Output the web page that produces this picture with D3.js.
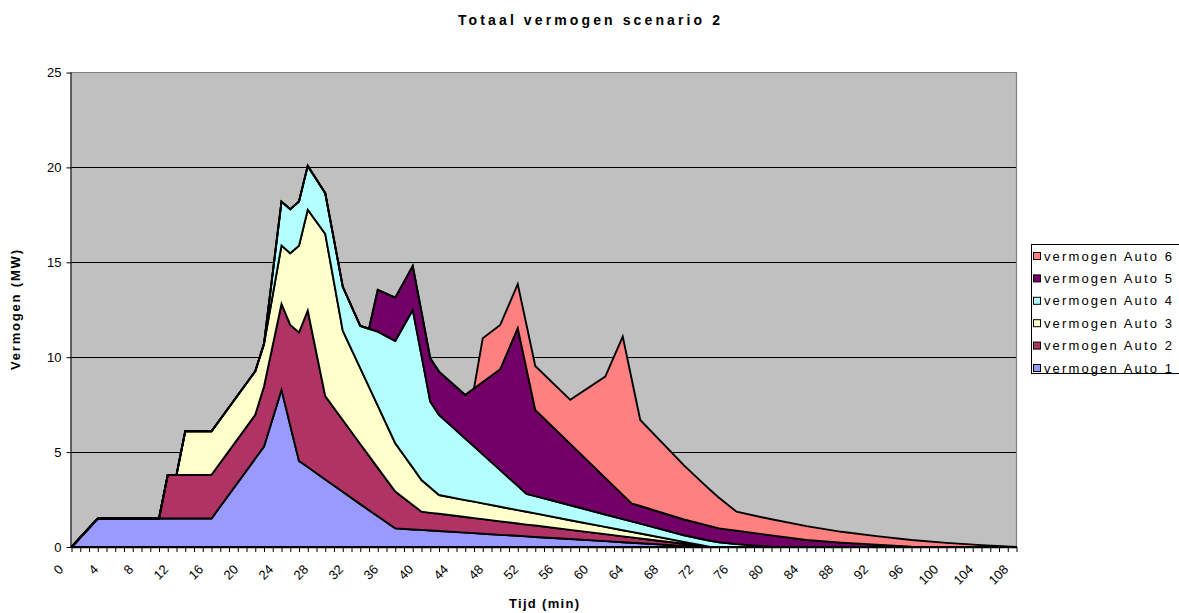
<!DOCTYPE html>
<html>
<head>
<meta charset="utf-8">
<script src="https://cdn.jsdelivr.net/npm/d3@7"></script>
<style>
  html, body { margin: 0; padding: 0; background: #fff; }
  svg { display: block; font-family: Arial, "Liberation Sans", sans-serif; }
</style>
</head>
<body>
<svg id="chart" width="1179" height="613"></svg>
<script>
// Time points (minutes) at which the power of each car is recorded
const times = [0,3,10,11,12,13,16, 21,22,24,25,26,27,29, 31,33,34,35,37,39,40,
  41,42,45,46,47,49,51, 52,53,57,61,63,64,65, 70,72,73,74,76,80,84, 88,92,96,100,104,108];

// Power per car (MW)
const auto1 = [0,1.5,1.5,1.5,1.5,1.5,1.5, 4.66,5.29,8.28,6.4,4.53,4.21,3.56, 2.91,2.26,1.94,1.62,0.98,0.92,0.90,
  0.87,0.84,0.76,0.73,0.70,0.64,0.59, 0.56,0.53,0.42,0.31,0.25,0.22,0.20, 0.06,0,0,0,0,0,0, 0,0,0,0,0,0];
const auto2 = [0,0,0,2.3,2.3,2.3,2.3, 2.3,3.17,4.53,5.3,6.77,8.25,4.39, 3.78,3.17,2.86,2.55,1.94,1.29,0.96,
  0.93,0.91,0.82,0.79,0.77,0.71,0.65, 0.62,0.60,0.48,0.37,0.31,0.29,0.25, 0.11,0.06,0,0,0,0,0, 0,0,0,0,0,0];
const auto3 = [0,0,0,0,0,2.3,2.3, 2.3,2.24,3.07,3.78,4.57,5.31,8.55, 4.71,3.99,3.64,3.28,2.55,1.97,1.67,
  1.33,0.99,0.89,0.87,0.83,0.77,0.70, 0.68,0.64,0.51,0.38,0.32,0.29,0.26, 0.10,0.03,0,0,0,0,0, 0,0,0,0,0,0];
const auto4 = [0,0,0,0,0,0,0, 0,0,2.32,2.32,2.33,2.31,2.14, 2.32,2.23,3.06,3.90,5.39,8.31,6.55,
  4.53,4.22,3.24,2.91,2.58,1.93,1.28, 0.94,0.91,0.79,0.65,0.59,0.55,0.52, 0.35,0.33,0.33,0.25,0.15,0.02,0, 0,0,0,0,0,0];
const auto5 = [0,0,0,0,0,0,0, 0,0,0,0,0,0,0, 0,0,0,2.2,2.28,2.32,2.30,
  2.29,2.28,2.30,3.05,3.81,5.32,8.31, 6.58,4.54,3.23,1.93,1.28,0.95,0.93, 0.83,0.80,0.77,0.73,0.71,0.59,0.37, 0.23,0.12,0.02,0,0,0];
const auto6 = [0,0,0,0,0,0,0, 0,0,0,0,0,0,0, 0,0,0,0,0,0,0,
  0,0,0,0,2.31,2.33,2.32, 2.32,2.32,2.32,5.34,8.34,6.59,4.53, 2.85,2.21,1.90,1.62,1.00,0.85,0.73, 0.57,0.45,0.35,0.22,0.10,0];

const seriesNames = ["vermogen Auto 1","vermogen Auto 2","vermogen Auto 3","vermogen Auto 4","vermogen Auto 5","vermogen Auto 6"];
const seriesColors = ["#9999FF","#B03366","#FFFFCC","#B3FFFF","#720066","#FF8080"];
const yTicks = [0,5,10,15,20,25];
const xLabelStep = 4;
const titleText = "Totaal vermogen scenario 2";
const xTitle = "Tijd (min)";
const yTitle = "Vermogen (MW)";

const svg = d3.select("#chart");
const plot = { left: 71.5, right: 1016.5, top: 72.5, bottom: 547 };

const x = d3.scaleLinear().domain([0, 108]).range([plot.left, plot.right]);
const y = d3.scaleLinear().domain([0, 25]).range([plot.bottom, plot.top]);

// rows for the stack layout
const keys = seriesNames;
const values = [auto1, auto2, auto3, auto4, auto5, auto6];
const rows = times.map((t, i) => {
  const r = { t };
  keys.forEach((k, j) => r[k] = values[j][i]);
  return r;
});
const stacked = d3.stack().keys(keys)(rows);

// plot background
svg.append("rect")
  .attr("x", plot.left).attr("y", plot.top)
  .attr("width", plot.right - plot.left).attr("height", plot.bottom - plot.top)
  .attr("fill", "#C0C0C0");

// horizontal gridlines
svg.append("g").selectAll("line")
  .data(yTicks.filter(v => v > 0 && v < 25))
  .join("line")
  .attr("x1", plot.left).attr("x2", plot.right)
  .attr("y1", d => Math.round(y(d)) + 0.5).attr("y2", d => Math.round(y(d)) + 0.5)
  .attr("stroke", "#000").attr("stroke-width", 1);

// plot border (top and right)
svg.append("path")
  .attr("d", `M${plot.left},${plot.top}H${plot.right}V${plot.bottom}`)
  .attr("fill", "none").attr("stroke", "#808080").attr("stroke-width", 1.2);

// stacked areas
const area = d3.area()
  .x(d => x(d.data.t))
  .y0(d => y(d[0]))
  .y1(d => y(d[1]));

svg.append("g").selectAll("path")
  .data(stacked)
  .join("path")
  .attr("d", area)
  .attr("fill", (d, i) => seriesColors[i])
  .attr("stroke", "#000")
  .attr("stroke-width", 1.9)
  .attr("stroke-linejoin", "miter");

// y axis
const yAxis = d3.axisLeft(y).tickValues(yTicks).tickSize(5).tickPadding(5).tickFormat(d3.format("d"));
const gy = svg.append("g").attr("transform", `translate(${plot.left},0)`).call(yAxis);
gy.select(".domain").attr("stroke", "#000").attr("stroke-width", 1.2).attr("d", `M-0.5,${plot.top}V${plot.bottom}`);
gy.selectAll(".tick line").attr("stroke", "#000");
gy.selectAll(".tick text").attr("font-size", 13).attr("fill", "#000").attr("font-family", "Arial, 'Liberation Sans', sans-serif");

// x axis: ticks every minute, labels every 4 minutes
const xAxis = d3.axisBottom(x).tickValues(d3.range(0, 109, 1)).tickSize(5)
  .tickFormat(d => d % xLabelStep === 0 ? d : "");
const gx = svg.append("g").attr("transform", `translate(0,${plot.bottom})`).call(xAxis);
gx.select(".domain").attr("stroke", "#000").attr("stroke-width", 1.5).attr("d", `M${plot.left},0.5H${plot.right}`);
gx.selectAll(".tick line").attr("stroke", "#000");
gx.selectAll(".tick text")
  .attr("font-size", 13).attr("fill", "#000")
  .attr("font-family", "Arial, 'Liberation Sans', sans-serif")
  .attr("text-anchor", "end")
  .attr("dy", "0.35em")
  .attr("transform", "translate(-11,20) rotate(-45)")
  .attr("x", 0).attr("y", 0);

// titles
svg.append("text")
  .attr("x", 589).attr("y", 25)
  .attr("text-anchor", "middle")
  .attr("font-size", 14).attr("font-weight", "bold")
  .attr("textLength", 262).attr("lengthAdjust", "spacing")
  .text(titleText);

svg.append("text")
  .attr("x", 544).attr("y", 608)
  .attr("text-anchor", "middle")
  .attr("font-size", 13).attr("font-weight", "bold")
  .attr("textLength", 70).attr("lengthAdjust", "spacing")
  .text(xTitle);

svg.append("text")
  .attr("transform", "translate(20,310) rotate(-90)")
  .attr("text-anchor", "middle")
  .attr("font-size", 13).attr("font-weight", "bold")
  .attr("textLength", 120).attr("lengthAdjust", "spacing")
  .text(yTitle);

// legend
const legend = svg.append("g");
legend.append("rect")
  .attr("x", 1031.5).attr("y", 244.5).attr("width", 150).attr("height", 129)
  .attr("fill", "#fff").attr("stroke", "#000").attr("stroke-width", 1);
const legendOrder = d3.range(keys.length).reverse();
const item = legend.selectAll("g.item").data(legendOrder).join("g")
  .attr("class", "item")
  .attr("transform", (d, i) => `translate(1033,${256 + i * 22.4})`);
item.append("rect")
  .attr("x", 0.5).attr("y", -3.5).attr("width", 7).attr("height", 7)
  .attr("fill", d => seriesColors[d]).attr("stroke", "#000").attr("stroke-width", 1);
item.append("text")
  .attr("x", 11).attr("y", 0).attr("dy", "0.36em")
  .attr("font-size", 13)
  .attr("textLength", 128).attr("lengthAdjust", "spacing")
  .text(d => keys[d]);
</script>
</body>
</html>
